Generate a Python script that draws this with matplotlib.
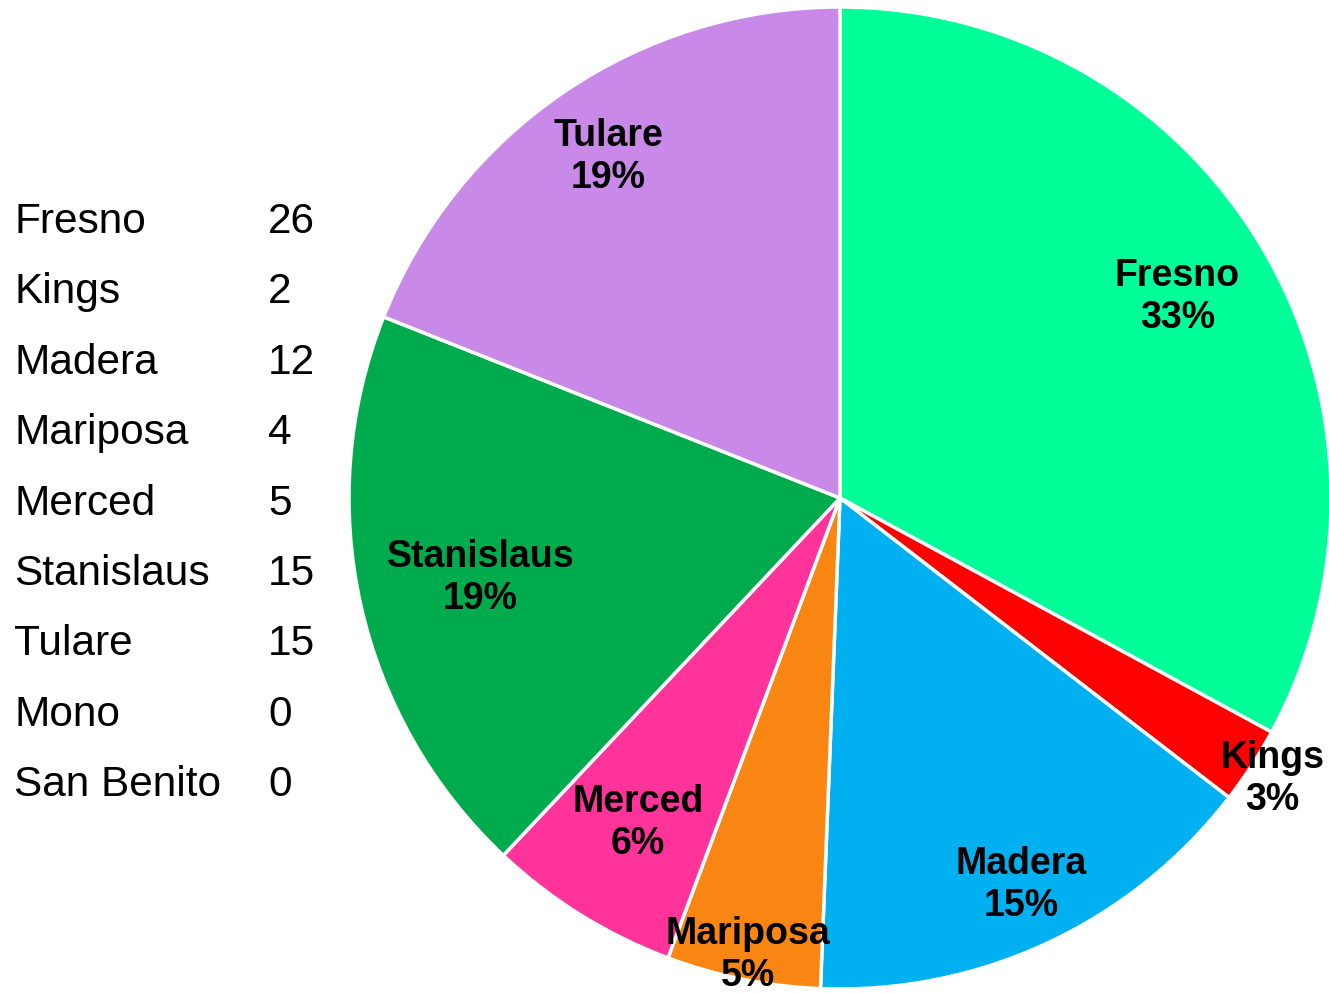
import matplotlib
matplotlib.use("Agg")
import matplotlib.pyplot as plt
import numpy as np

names = ["Fresno", "Kings", "Madera", "Mariposa", "Merced", "Stanislaus", "Tulare", "Mono", "San Benito"]
values = [26, 2, 12, 4, 5, 15, 15, 0, 0]
colors = ["#00FF99", "#FF0000", "#00B0F0", "#F98612", "#FF3399", "#00AB4E", "#C889E8", "#888888", "#888888"]
label_r = [0.80, 1.05, 0.87, 0.95, 0.78, 0.75, 0.84, 0.8, 0.8]

plt.rcParams['font.family'] = ['Liberation Sans', 'DejaVu Sans']
W, H = 1329, 993
fig = plt.figure(figsize=(W / 100, H / 100), dpi=100)

cx, cy, R = 840, 498, 491
ax = fig.add_axes([(cx - R) / W, (H - cy - R) / H, 2 * R / W, 2 * R / H])

idx = [i for i, v in enumerate(values) if v > 0]
vals = [values[i] for i in idx]
total = sum(vals)
wedges, _ = ax.pie(vals, colors=[colors[i] for i in idx], startangle=90, counterclock=False,
                   radius=1.0, wedgeprops=dict(edgecolor="white", linewidth=2.5))
for w, i in zip(wedges, idx):
    ang = np.deg2rad((w.theta1 + w.theta2) / 2)
    r = label_r[i]
    pct = round(values[i] / total * 100)
    ax.text(r * np.cos(ang), r * np.sin(ang), f"{names[i]}\n{pct}%", ha="center", va="center",
            fontsize=27, fontweight="bold", linespacing=1.2)
ax.set_xlim(-1, 1)
ax.set_ylim(-1, 1)
ax.set_aspect("auto")
ax.axis("off")

y0, dy = 233, 70.4
for k, (n, v) in enumerate(zip(names, values)):
    yb = 1 - (y0 + k * dy) / H
    fig.text(14 / W, yb, n, fontsize=30.5, va="baseline", ha="left")
    fig.text(268 / W, yb, str(v), fontsize=30.5, va="baseline", ha="left")

fig.savefig("out.png", dpi=100)
